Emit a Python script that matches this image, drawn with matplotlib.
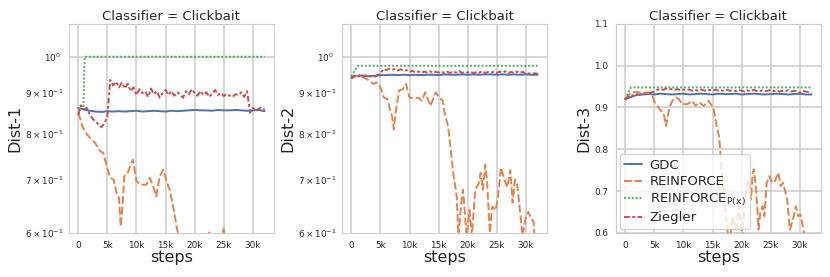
import matplotlib
matplotlib.use('Agg')
import matplotlib.pyplot as plt
import seaborn as sns
from matplotlib.ticker import FuncFormatter

sns.set_style('whitegrid')
plt.rcParams['font.family'] = ['DejaVu Sans']

BLUE, ORANGE, GREEN, RED = '#4C72B0', '#DD8452', '#55A868', '#C44E52'

# shared step grids (in steps)
steps_1k = [i * 1000 for i in range(33)]
steps_500 = [i * 500 for i in range(65)]

# ---------------- Dist-1 ----------------
d1_gdc = [0.862, 0.858, 0.855, 0.853, 0.852, 0.854, 0.853, 0.854, 0.853, 0.854, 0.855,
          0.853, 0.854, 0.855, 0.854, 0.853, 0.855, 0.854, 0.855, 0.856, 0.857, 0.856,
          0.856, 0.855, 0.857, 0.856, 0.856, 0.857, 0.856, 0.855, 0.856, 0.857, 0.854]
d1_ziegler = [0.845, 0.868, 0.858, 0.862, 0.845, 0.835, 0.828, 0.822, 0.815, 0.825, 0.840,
              0.935, 0.920, 0.930, 0.915, 0.928, 0.912, 0.925, 0.905, 0.915, 0.895, 0.910,
              0.900, 0.905, 0.890, 0.912, 0.897, 0.905, 0.888, 0.900, 0.908, 0.895, 0.905,
              0.893, 0.902, 0.896, 0.888, 0.905, 0.897, 0.910, 0.900, 0.893, 0.905, 0.895,
              0.902, 0.890, 0.898, 0.908, 0.895, 0.900, 0.892, 0.898, 0.893, 0.890, 0.897,
              0.895, 0.902, 0.890, 0.905, 0.850, 0.862, 0.855, 0.860, 0.863, 0.858]
d1_px_x = [0, 400, 900, 1100, 32000]
d1_px = [0.858, 0.868, 0.865, 1.0, 1.0]
d1_rf_x = [0, 200, 700, 1500, 2000, 2900, 3800, 4300, 4900, 5500, 6100, 6700, 7000, 7300,
           7600, 7900, 8500, 9100, 9400, 10000, 10800, 11700, 12300, 12900, 13400, 14000,
           14600, 15100, 15700, 16300, 16900, 17500, 18500, 20000, 21500, 22500, 23500,
           24500, 25000, 25500, 27000, 29000, 31000, 32000]
d1_rf = [0.850, 0.842, 0.818, 0.798, 0.791, 0.779, 0.760, 0.757, 0.728, 0.704, 0.700,
         0.667, 0.665, 0.611, 0.648, 0.707, 0.714, 0.735, 0.742, 0.697, 0.690, 0.690,
         0.704, 0.686, 0.667, 0.707, 0.721, 0.700, 0.680, 0.648, 0.611, 0.580, 0.550,
         0.540, 0.570, 0.601, 0.570, 0.590, 0.607, 0.580, 0.550, 0.560, 0.550, 0.550]

# ---------------- Dist-2 ----------------
d2_gdc = [0.942, 0.946, 0.947, 0.945, 0.946, 0.948, 0.948, 0.949, 0.948, 0.949, 0.948,
          0.949, 0.948, 0.949, 0.949, 0.948, 0.950, 0.949, 0.949, 0.950, 0.949, 0.950,
          0.949, 0.950, 0.950, 0.949, 0.950, 0.949, 0.950, 0.949, 0.950, 0.949, 0.949]
d2_ziegler = [0.938, 0.946, 0.942, 0.948, 0.944, 0.947, 0.942, 0.946, 0.943, 0.948, 0.952,
              0.965, 0.962, 0.966, 0.963, 0.965, 0.961, 0.964, 0.960, 0.962, 0.957, 0.960,
              0.955, 0.958, 0.954, 0.958, 0.955, 0.959, 0.954, 0.957, 0.955, 0.958, 0.953,
              0.957, 0.954, 0.958, 0.955, 0.960, 0.954, 0.957, 0.955, 0.958, 0.953, 0.957,
              0.955, 0.959, 0.954, 0.957, 0.955, 0.958, 0.954, 0.958, 0.955, 0.959, 0.954,
              0.957, 0.953, 0.958, 0.955, 0.957, 0.950, 0.953, 0.951, 0.953, 0.952]
d2_px_x = [0, 500, 1100, 32000]
d2_px = [0.945, 0.958, 0.974, 0.974]
d2_rf_x = [0, 1600, 2700, 3800, 4400, 5000, 5600, 6200, 6700, 7000, 7300, 7600, 8200,
           8800, 9400, 10000, 10900, 11500, 12100, 12700, 13600, 14500, 15100, 15700,
           16000, 16600, 16900, 17500, 18100, 18400, 19000, 19200, 19500, 19800, 20300,
           20700, 21300, 21900, 22200, 22600, 23000, 23300, 23800, 24200, 24800, 25200,
           25700, 26300, 26800, 27300, 27700, 28100, 28500, 29000, 29400, 30000, 30400,
           30900, 31300, 31500]
d2_rf = [0.945, 0.946, 0.937, 0.924, 0.928, 0.915, 0.888, 0.885, 0.855, 0.842, 0.810,
         0.850, 0.906, 0.910, 0.924, 0.888, 0.886, 0.888, 0.880, 0.902, 0.867, 0.902,
         0.888, 0.880, 0.851, 0.818, 0.785, 0.714, 0.667, 0.595, 0.667, 0.680, 0.636,
         0.595, 0.641, 0.595, 0.680, 0.693, 0.714, 0.680, 0.731, 0.700, 0.600, 0.648,
         0.641, 0.667, 0.725, 0.700, 0.685, 0.720, 0.655, 0.700, 0.690, 0.636, 0.595,
         0.630, 0.638, 0.625, 0.620, 0.590]

# ---------------- Dist-3 ----------------
d3_gdc = [0.920, 0.925, 0.930, 0.931, 0.932, 0.931, 0.933, 0.932, 0.931, 0.932, 0.933,
          0.931, 0.932, 0.933, 0.932, 0.931, 0.933, 0.932, 0.932, 0.933, 0.931, 0.932,
          0.933, 0.932, 0.931, 0.932, 0.933, 0.932, 0.931, 0.932, 0.933, 0.931, 0.931]
d3_ziegler = [0.918, 0.925, 0.930, 0.928, 0.932, 0.930, 0.935, 0.932, 0.934, 0.936, 0.938,
              0.942, 0.944, 0.942, 0.945, 0.943, 0.944, 0.942, 0.944, 0.941, 0.943, 0.941,
              0.943, 0.940, 0.942, 0.940, 0.943, 0.941, 0.939, 0.942, 0.940, 0.943, 0.940,
              0.941, 0.939, 0.942, 0.940, 0.941, 0.939, 0.942, 0.940, 0.938, 0.941, 0.939,
              0.942, 0.940, 0.938, 0.941, 0.939, 0.940, 0.942, 0.939, 0.941, 0.938, 0.940,
              0.939, 0.941, 0.938, 0.940, 0.939, 0.935, 0.940, 0.938, 0.937, 0.937]
d3_px_x = [0, 500, 1000, 32000]
d3_px = [0.920, 0.935, 0.948, 0.948]
d3_rf_x = [0, 500, 1000, 2000, 3000, 4000, 4600, 5100, 5900, 6400, 6700, 7000, 7600,
           8100, 8700, 9200, 9800, 10700, 11500, 12100, 12700, 13500, 14300, 14900,
           15200, 15600, 15800, 16100, 16300, 16500, 16900, 17200, 17500, 18000, 18400,
           19000, 19500, 20100, 20600, 21200, 21600, 21900, 22100, 22500, 22900, 23200,
           23600, 23900, 24300, 24800, 25200, 25700, 26300, 26700, 27100, 27400, 27800,
           28300, 28800, 29300, 29700, 30100, 30400, 30700, 31000]
d3_rf = [0.920, 0.928, 0.936, 0.937, 0.935, 0.936, 0.930, 0.912, 0.896, 0.889, 0.880,
         0.856, 0.900, 0.916, 0.924, 0.920, 0.908, 0.908, 0.916, 0.904, 0.912, 0.904,
         0.916, 0.904, 0.896, 0.864, 0.848, 0.832, 0.804, 0.760, 0.704, 0.656, 0.608,
         0.580, 0.640, 0.608, 0.664, 0.590, 0.688, 0.728, 0.680, 0.744, 0.752, 0.700,
         0.608, 0.648, 0.664, 0.640, 0.720, 0.736, 0.720, 0.724, 0.744, 0.712, 0.720,
         0.704, 0.680, 0.608, 0.632, 0.664, 0.640, 0.644, 0.624, 0.600, 0.580]


def steps_fmt(x, pos):
    if x == 0:
        return '0'
    return f'{int(round(x / 1000))}k'


fig = plt.figure(figsize=(8.3, 2.77), dpi=100)
lefts = [0.083, 0.412, 0.742]
axes = [fig.add_axes([l, 0.159, 0.247, 0.755]) for l in lefts]

panels = [
    ('Dist-1', d1_gdc, d1_rf_x, d1_rf, d1_px_x, d1_px, d1_ziegler),
    ('Dist-2', d2_gdc, d2_rf_x, d2_rf, d2_px_x, d2_px, d2_ziegler),
    ('Dist-3', d3_gdc, d3_rf_x, d3_rf, d3_px_x, d3_px, d3_ziegler),
]

lw = 1.4
for i, (ax, (name, gdc, rf_x, rf, px_x, px, zg)) in enumerate(zip(axes, panels)):
    ax.plot(steps_1k, gdc, color=BLUE, lw=lw, label='GDC')
    ax.plot(rf_x, rf, color=ORANGE, lw=lw, dashes=(4, 1.5), label='REINFORCE')
    ax.plot(px_x, px, color=GREEN, lw=lw, dashes=(1, 1),
            label=r'REINFORCE$_{\mathrm{P(x)}}$')
    ax.plot(steps_500, zg, color=RED, lw=lw, dashes=(3, 1.25, 1.5, 1.25), label='Ziegler')

    if i < 2:
        ax.set_yscale('log')
    ax.set_ylim(0.6, 1.1)
    ax.set_xlim(-1600, 33600)
    ax.set_xticks(range(0, 30001, 5000))
    ax.xaxis.set_major_formatter(FuncFormatter(steps_fmt))
    ax.tick_params(axis='both', which='both', labelsize=6.4, pad=2)
    ax.grid(lw=1.1)
    ax.set_title('Classifier = Clickbait', fontsize=9.5, pad=3)
    ax.set_xlabel('steps', fontsize=11.5, labelpad=0)
    ax.set_ylabel(name, fontsize=11.5, labelpad=2)

axes[2].legend(loc='lower left', fontsize=9.5, handlelength=1.3, handletextpad=0.6,
               borderaxespad=0.3, labelspacing=0.25, borderpad=0.35)

plt.savefig('out.png', dpi=100)
plt.close()
